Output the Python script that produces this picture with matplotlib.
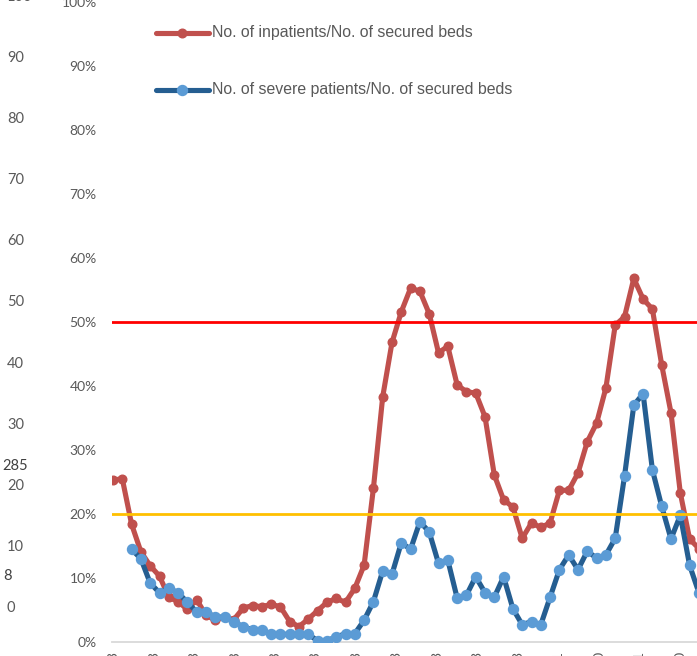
import matplotlib
matplotlib.use("Agg")
import matplotlib.pyplot as plt
from matplotlib.lines import Line2D
import matplotlib.transforms as mtransforms

# ---- data (ratios in %) ----
inpatients = [25.3, 25.5, 18.4, 14.1, 11.9, 10.3, 7.0, 6.3, 5.1, 6.6,
              4.2, 3.4, 3.9, 3.5, 5.3, 5.7, 5.5, 5.9, 5.5, 3.2,
              2.4, 3.6, 4.9, 6.2, 6.8, 6.2, 8.4, 12.0, 24.0, 38.3,
              46.8, 51.6, 55.3, 54.8, 51.3, 45.2, 46.2, 40.2, 39.1, 38.9,
              35.2, 26.1, 22.2, 21.1, 16.2, 18.6, 17.9, 18.6, 23.7, 23.7,
              26.4, 31.3, 34.2, 39.7, 49.5, 50.8, 56.8, 53.6, 52.0, 43.3,
              35.8, 23.3, 16.1, 14.6]
severe = [None, None, 14.5, 13.0, 9.2, 7.7, 8.4, 7.7, 6.2, 4.7,
          4.7, 3.9, 3.9, 3.1, 2.4, 1.9, 1.9, 1.2, 1.2, 1.2,
          1.2, 1.2, 0.2, 0.2, 0.8, 1.3, 1.3, 3.4, 6.3, 11.1,
          10.6, 15.5, 14.5, 18.8, 17.2, 12.3, 12.8, 6.9, 7.3, 10.2,
          7.7, 7.0, 10.2, 5.2, 2.7, 3.2, 2.7, 7.0, 11.3, 13.6,
          11.3, 14.2, 13.1, 13.6, 16.2, 25.9, 37.0, 38.8, 26.9, 21.2,
          16.1, 19.8, 12.0, 7.7]
thresholds = [50, 20]
threshold_colors = ["#FF0000", "#FFC000"]

series_labels = ["No. of inpatients/No. of secured beds",
                 "No. of severe patients/No. of secured beds"]

tick_labels = ["2020/4/3", "2020/5/3", "2020/6/3", "2020/7/3", "2020/8/3",
               "2020/9/3", "2020/10/3", "2020/11/3", "2020/12/3", "2021/1/3",
               "2021/2/3", "2021/3/1", "2021/4/10", "2021/5/1", "2021/6/10"]
tick_step = 4.35  # weeks per month

left_axis_values = [0, 10, 20, 30, 40, 50, 60, 70, 80, 90, 100]
extra_labels = [("285", 2, 466), ("8", 3, 576)]

W, H = 697, 656
fig = plt.figure(figsize=(W / 100, H / 100), dpi=100)

# main axes: x from px 112 to 720 (beyond right edge), y 0% at px 642, 100% at px 2
px0, px1 = 112, 720
sp = 9.3
first_px = 113
ax = fig.add_axes([px0 / W, (H - 642) / H, (px1 - px0) / W, 640 / H])
ax.set_xlim((px0 - first_px) / sp, (px1 - first_px) / sp)
ax.set_ylim(0, 100)

x = list(range(len(inpatients)))
red = "#C0504D"
ax.plot(x, inpatients, color=red, lw=3.7, marker="o", ms=6.2,
        mfc=red, mec=red, zorder=3, solid_capstyle="round", solid_joinstyle="round")
xs = [i for i, v in enumerate(severe) if v is not None]
ys = [v for v in severe if v is not None]
ax.plot(xs, ys, color="#255E91", lw=3.7, marker="o", ms=7.2,
        mfc="#5B9BD5", mec="#5B9BD5", zorder=4, solid_capstyle="round", solid_joinstyle="round")

for t, c in zip(thresholds, threshold_colors):
    ax.axhline(t, color=c, lw=2.0, zorder=5)

for s in ["top", "right", "left"]:
    ax.spines[s].set_visible(False)
ax.spines["bottom"].set_color("#D9D9D9")
ax.spines["bottom"].set_linewidth(1.3)
ax.spines["bottom"].set_zorder(1)

ax.set_yticks(range(0, 101, 10))
ax.set_yticklabels([f"{v}%" for v in range(0, 101, 10)])
ax.tick_params(axis="y", length=0, pad=11, labelsize=10, labelcolor="#595959")
for lbl in ax.get_yticklabels():
    lbl.set_fontfamily("Lato")

ax.set_xticks([i * tick_step for i in range(len(tick_labels))])
ax.set_xticklabels(tick_labels, rotation=90)
ax.tick_params(axis="x", length=0, pad=6.5, labelsize=10, labelcolor="#595959")
for lbl in ax.get_xticklabels():
    lbl.set_fontfamily("Lato")

# left secondary scale labels (0..100), 0 at px 608, 100 at px -3
axl = fig.add_axes([0, (H - 608) / H, 0.001, 611 / H])
axl.set_ylim(0, 100)
axl.axis("off")
trans = mtransforms.blended_transform_factory(fig.transFigure, axl.transData)
for v in left_axis_values:
    axl.text(7 / W, v, str(v), transform=trans, ha="left", va="center",
             fontsize=10.5, color="#595959", family="Lato", clip_on=False)
for s, px, py in extra_labels:
    fig.text(px / W, 1 - py / H, s, ha="left", va="center",
             fontsize=10.5, color="#404040", family="Lato")

# legend (manual)
leg_y = [32.5, 89.5]
leg_line = [red, "#255E91"]
leg_mark = [red, "#5B9BD5"]
leg_ms = [6.2, 7.2]
for yy, lc, mc, ms, lab in zip(leg_y, leg_line, leg_mark, leg_ms, series_labels):
    fy = 1 - yy / H
    fig.add_artist(Line2D([156 / W, 209 / W], [fy, fy], color=lc, lw=3.7,
                          solid_capstyle="round", transform=fig.transFigure))
    fig.add_artist(Line2D([182 / W], [fy], marker="o", ms=ms, mfc=mc, mec=mc,
                          ls="none", transform=fig.transFigure))
    fig.text(212 / W, fy, lab, ha="left", va="center", fontsize=11.4,
             color="#595959", family="Liberation Sans")

fig.savefig("out.png", dpi=100)
